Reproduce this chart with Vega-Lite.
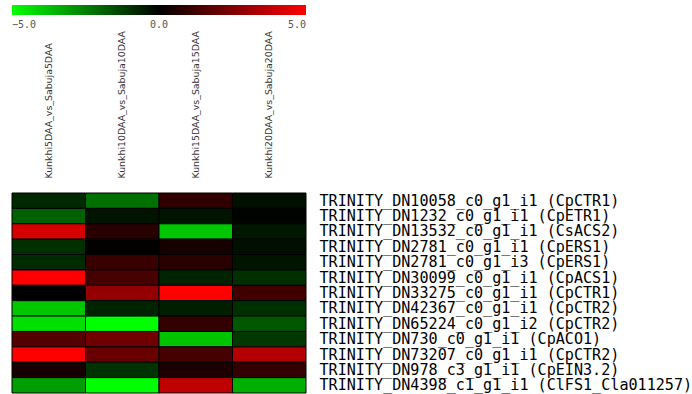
{
  "$schema": "https://vega.github.io/schema/vega-lite/v6.json",
  "autosize": {"type": "none"},
  "padding": {"left": 12, "top": 193, "right": 386, "bottom": 1},
  "width": 294,
  "height": 200,
  "background": "white",
  "config": {"view": {"stroke": null}},
  "data": {
    "values": [
      {"gene": "TRINITY_DN10058_c0_g1_i1 (CpCTR1)", "cmp": "Kunkhi5DAA_vs_Sabuja5DAA", "v": -0.8},
      {"gene": "TRINITY_DN10058_c0_g1_i1 (CpCTR1)", "cmp": "Kunkhi10DAA_vs_Sabuja10DAA", "v": -2.2},
      {"gene": "TRINITY_DN10058_c0_g1_i1 (CpCTR1)", "cmp": "Kunkhi15DAA_vs_Sabuja15DAA", "v": 0.95},
      {"gene": "TRINITY_DN10058_c0_g1_i1 (CpCTR1)", "cmp": "Kunkhi20DAA_vs_Sabuja20DAA", "v": -0.3},
      {"gene": "TRINITY_DN1232_c0_g1_i1 (CpETR1)", "cmp": "Kunkhi5DAA_vs_Sabuja5DAA", "v": -1.9},
      {"gene": "TRINITY_DN1232_c0_g1_i1 (CpETR1)", "cmp": "Kunkhi10DAA_vs_Sabuja10DAA", "v": -0.4},
      {"gene": "TRINITY_DN1232_c0_g1_i1 (CpETR1)", "cmp": "Kunkhi15DAA_vs_Sabuja15DAA", "v": -0.4},
      {"gene": "TRINITY_DN1232_c0_g1_i1 (CpETR1)", "cmp": "Kunkhi20DAA_vs_Sabuja20DAA", "v": -0.05},
      {"gene": "TRINITY_DN13532_c0_g1_i1 (CsACS2)", "cmp": "Kunkhi5DAA_vs_Sabuja5DAA", "v": 4.2},
      {"gene": "TRINITY_DN13532_c0_g1_i1 (CsACS2)", "cmp": "Kunkhi10DAA_vs_Sabuja10DAA", "v": 0.8},
      {"gene": "TRINITY_DN13532_c0_g1_i1 (CsACS2)", "cmp": "Kunkhi15DAA_vs_Sabuja15DAA", "v": -3.9},
      {"gene": "TRINITY_DN13532_c0_g1_i1 (CsACS2)", "cmp": "Kunkhi20DAA_vs_Sabuja20DAA", "v": -0.45},
      {"gene": "TRINITY_DN2781_c0_g1_i1 (CpERS1)", "cmp": "Kunkhi5DAA_vs_Sabuja5DAA", "v": -0.95},
      {"gene": "TRINITY_DN2781_c0_g1_i1 (CpERS1)", "cmp": "Kunkhi10DAA_vs_Sabuja10DAA", "v": 0.05},
      {"gene": "TRINITY_DN2781_c0_g1_i1 (CpERS1)", "cmp": "Kunkhi15DAA_vs_Sabuja15DAA", "v": 0.45},
      {"gene": "TRINITY_DN2781_c0_g1_i1 (CpERS1)", "cmp": "Kunkhi20DAA_vs_Sabuja20DAA", "v": -0.3},
      {"gene": "TRINITY_DN2781_c0_g1_i3 (CpERS1)", "cmp": "Kunkhi5DAA_vs_Sabuja5DAA", "v": -0.85},
      {"gene": "TRINITY_DN2781_c0_g1_i3 (CpERS1)", "cmp": "Kunkhi10DAA_vs_Sabuja10DAA", "v": 1.1},
      {"gene": "TRINITY_DN2781_c0_g1_i3 (CpERS1)", "cmp": "Kunkhi15DAA_vs_Sabuja15DAA", "v": 0.8},
      {"gene": "TRINITY_DN2781_c0_g1_i3 (CpERS1)", "cmp": "Kunkhi20DAA_vs_Sabuja20DAA", "v": -0.4},
      {"gene": "TRINITY_DN30099_c0_g1_i1 (CpACS1)", "cmp": "Kunkhi5DAA_vs_Sabuja5DAA", "v": 5.0},
      {"gene": "TRINITY_DN30099_c0_g1_i1 (CpACS1)", "cmp": "Kunkhi10DAA_vs_Sabuja10DAA", "v": 1.4},
      {"gene": "TRINITY_DN30099_c0_g1_i1 (CpACS1)", "cmp": "Kunkhi15DAA_vs_Sabuja15DAA", "v": -0.7},
      {"gene": "TRINITY_DN30099_c0_g1_i1 (CpACS1)", "cmp": "Kunkhi20DAA_vs_Sabuja20DAA", "v": -0.95},
      {"gene": "TRINITY_DN33275_c0_g1_i1 (CpCTR1)", "cmp": "Kunkhi5DAA_vs_Sabuja5DAA", "v": 0.0},
      {"gene": "TRINITY_DN33275_c0_g1_i1 (CpCTR1)", "cmp": "Kunkhi10DAA_vs_Sabuja10DAA", "v": 2.9},
      {"gene": "TRINITY_DN33275_c0_g1_i1 (CpCTR1)", "cmp": "Kunkhi15DAA_vs_Sabuja15DAA", "v": 5.0},
      {"gene": "TRINITY_DN33275_c0_g1_i1 (CpCTR1)", "cmp": "Kunkhi20DAA_vs_Sabuja20DAA", "v": 1.25},
      {"gene": "TRINITY_DN42367_c0_g1_i1 (CpCTR2)", "cmp": "Kunkhi5DAA_vs_Sabuja5DAA", "v": -3.9},
      {"gene": "TRINITY_DN42367_c0_g1_i1 (CpCTR2)", "cmp": "Kunkhi10DAA_vs_Sabuja10DAA", "v": -0.7},
      {"gene": "TRINITY_DN42367_c0_g1_i1 (CpCTR2)", "cmp": "Kunkhi15DAA_vs_Sabuja15DAA", "v": -0.6},
      {"gene": "TRINITY_DN42367_c0_g1_i1 (CpCTR2)", "cmp": "Kunkhi20DAA_vs_Sabuja20DAA", "v": -0.95},
      {"gene": "TRINITY_DN65224_c0_g1_i2 (CpCTR2)", "cmp": "Kunkhi5DAA_vs_Sabuja5DAA", "v": -4.4},
      {"gene": "TRINITY_DN65224_c0_g1_i2 (CpCTR2)", "cmp": "Kunkhi10DAA_vs_Sabuja10DAA", "v": -5.0},
      {"gene": "TRINITY_DN65224_c0_g1_i2 (CpCTR2)", "cmp": "Kunkhi15DAA_vs_Sabuja15DAA", "v": 1.0},
      {"gene": "TRINITY_DN65224_c0_g1_i2 (CpCTR2)", "cmp": "Kunkhi20DAA_vs_Sabuja20DAA", "v": -1.7},
      {"gene": "TRINITY_DN730_c0_g1_i1 (CpACO1)", "cmp": "Kunkhi5DAA_vs_Sabuja5DAA", "v": 1.65},
      {"gene": "TRINITY_DN730_c0_g1_i1 (CpACO1)", "cmp": "Kunkhi10DAA_vs_Sabuja10DAA", "v": 2.2},
      {"gene": "TRINITY_DN730_c0_g1_i1 (CpACO1)", "cmp": "Kunkhi15DAA_vs_Sabuja15DAA", "v": -3.85},
      {"gene": "TRINITY_DN730_c0_g1_i1 (CpACO1)", "cmp": "Kunkhi20DAA_vs_Sabuja20DAA", "v": -1.1},
      {"gene": "TRINITY_DN73207_c0_g1_i1 (CpCTR2)", "cmp": "Kunkhi5DAA_vs_Sabuja5DAA", "v": 5.0},
      {"gene": "TRINITY_DN73207_c0_g1_i1 (CpCTR2)", "cmp": "Kunkhi10DAA_vs_Sabuja10DAA", "v": 2.05},
      {"gene": "TRINITY_DN73207_c0_g1_i1 (CpCTR2)", "cmp": "Kunkhi15DAA_vs_Sabuja15DAA", "v": 1.4},
      {"gene": "TRINITY_DN73207_c0_g1_i1 (CpCTR2)", "cmp": "Kunkhi20DAA_vs_Sabuja20DAA", "v": 3.5},
      {"gene": "TRINITY_DN978_c3_g1_i1 (CpEIN3.2)", "cmp": "Kunkhi5DAA_vs_Sabuja5DAA", "v": 0.45},
      {"gene": "TRINITY_DN978_c3_g1_i1 (CpEIN3.2)", "cmp": "Kunkhi10DAA_vs_Sabuja10DAA", "v": -1.0},
      {"gene": "TRINITY_DN978_c3_g1_i1 (CpEIN3.2)", "cmp": "Kunkhi15DAA_vs_Sabuja15DAA", "v": 0.55},
      {"gene": "TRINITY_DN978_c3_g1_i1 (CpEIN3.2)", "cmp": "Kunkhi20DAA_vs_Sabuja20DAA", "v": 1.0},
      {"gene": "TRINITY_DN4398_c1_g1_i1 (ClFS1_Cla011257)", "cmp": "Kunkhi5DAA_vs_Sabuja5DAA", "v": -3.1},
      {"gene": "TRINITY_DN4398_c1_g1_i1 (ClFS1_Cla011257)", "cmp": "Kunkhi10DAA_vs_Sabuja10DAA", "v": -5.0},
      {"gene": "TRINITY_DN4398_c1_g1_i1 (ClFS1_Cla011257)", "cmp": "Kunkhi15DAA_vs_Sabuja15DAA", "v": 3.75},
      {"gene": "TRINITY_DN4398_c1_g1_i1 (ClFS1_Cla011257)", "cmp": "Kunkhi20DAA_vs_Sabuja20DAA", "v": -3.45}
    ]
  },
  "mark": {"type": "rect", "stroke": "#000000", "strokeWidth": 1},
  "encoding": {
    "x": {
      "field": "cmp", "type": "nominal", "sort": null, "title": null,
      "scale": {"paddingInner": 0, "paddingOuter": 0},
      "axis": {"orient": "top", "labelAngle": -90, "ticks": false, "tickSize": 0, "domain": false,
               "labelPadding": 15, "labelFont": "DejaVu Sans", "labelFontSize": 9.4, "labelColor": "#333333",
               "labelLimit": 0}
    },
    "y": {
      "field": "gene", "type": "nominal", "sort": null, "title": null,
      "scale": {"paddingInner": 0, "paddingOuter": 0},
      "axis": {"orient": "right", "ticks": false, "tickSize": 0, "domain": false,
               "labelPadding": 13, "labelFont": "DejaVu Sans Mono", "labelFontSize": 15.1, "labelColor": "#000000",
               "labelLimit": 0, "labelBaseline": "middle"}
    },
    "color": {
      "field": "v", "type": "quantitative",
      "scale": {"domain": [-5, 0, 5], "range": ["#00ff00", "#000000", "#ff0000"], "interpolate": "rgb", "clamp": true},
      "legend": {
        "orient": "none", "legendX": 0, "legendY": -188, "direction": "horizontal", "title": null,
        "gradientLength": 294, "gradientThickness": 10, "gradientStrokeWidth": 0, "padding": 0,
        "values": [-5, 0, 5], "format": ".1f", "labelFont": "DejaVu Sans Mono", "labelFontSize": 10,
        "labelColor": "#555555", "labelOffset": 5
      }
    }
  }
}
